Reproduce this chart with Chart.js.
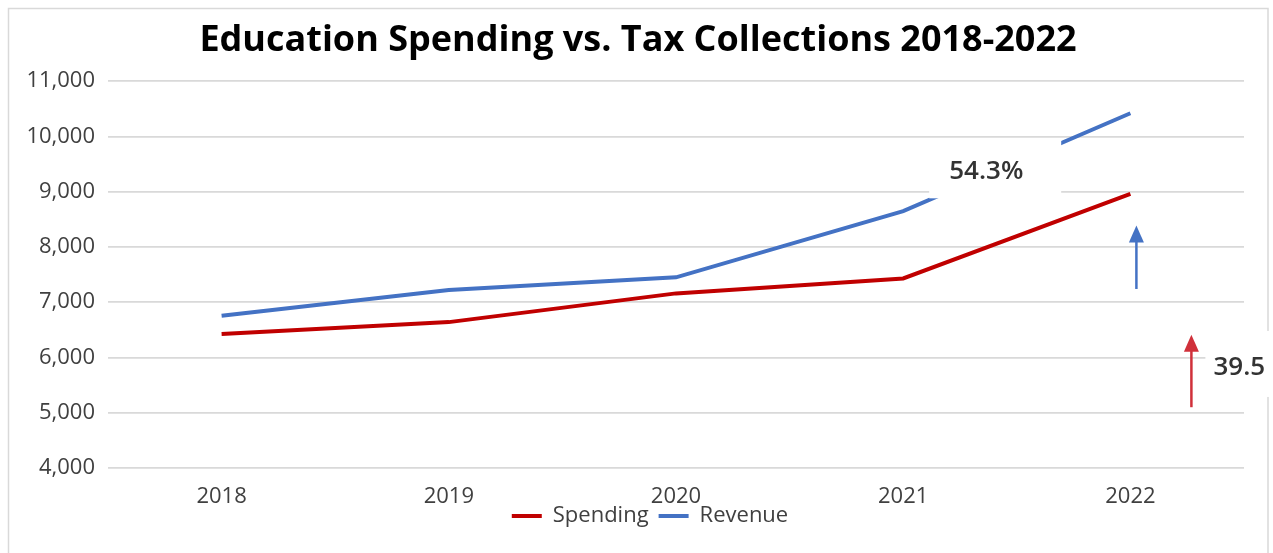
<!DOCTYPE html>
<html>
<head>
<meta charset="utf-8">
<script src="https://cdn.jsdelivr.net/npm/chart.js@4"></script>
<style>
  html, body { margin: 0; padding: 0; background: #fff; }
  #wrap { width: 1273px; height: 553px; }
</style>
</head>
<body>
<div id="wrap"><canvas id="myChart" width="1273" height="553"></canvas></div>
<script>
const years = ['2018', '2019', '2020', '2021', '2022'];
const spending = [6425, 6640, 7160, 7430, 8960];
const revenue = [6755, 7220, 7450, 8650, 10420];
const yMin = 4000;
const yMax = 11000;
const revenueGrowth = '54.3%';
const spendingGrowth = '39.5';

const ctx = document.getElementById('myChart').getContext('2d');

// frame, white label boxes and the growth arrows
const extras = {
    id: 'extras',
    afterLayout(chart) {
        // pull the legend up under the year labels, like the original
        const lg = chart.legend;
        lg.top -= 15; lg.bottom -= 15;
        lg.left += 24; lg.right += 24;
        const t = chart.titleBlock;
        t.left += 12; t.right += 12;
    },
    beforeDraw(chart) {
        const c = chart.ctx;
        c.save();
        c.fillStyle = '#ffffff';
        c.fillRect(0, 0, chart.width, chart.height);
        c.strokeStyle = '#d9d9d9';
        c.lineWidth = 1.5;
        c.strokeRect(8.5, 8.5, 1259.5, 600);
        c.restore();
    },
    afterDatasetsDraw(chart) {
        const c = chart.ctx;
        const x = chart.scales.x;
        const y = chart.scales.y;
        const x21 = x.getPixelForValue(3);
        const x22 = x.getPixelForValue(4);

        c.save();
        // box behind revenue label
        c.fillStyle = '#ffffff';
        c.fillRect(x21 + 26, y.getPixelForValue(9930), 132, 58);
        c.fillStyle = '#333333';
        c.font = '600 26px "Open Sans"';
        c.textAlign = 'left';
        c.textBaseline = 'middle';
        c.fillText(revenueGrowth, x21 + 46, y.getPixelForValue(9360));

        // box behind spending label
        c.fillStyle = '#ffffff';
        c.fillRect(x22 + 75, y.getPixelForValue(6480), 80, 66);
        c.fillStyle = '#333333';
        c.fillText(spendingGrowth, x22 + 83, y.getPixelForValue(5820));

        drawArrow(c, x22 + 6, y.getPixelForValue(7240), y.getPixelForValue(8390), '#4472C4');
        drawArrow(c, x22 + 61, y.getPixelForValue(5100), y.getPixelForValue(6410), '#D0303A');
        c.restore();
    }
};

function drawArrow(c, px, yFrom, yTo, color) {
    c.strokeStyle = color;
    c.fillStyle = color;
    c.lineWidth = 2.5;
    c.beginPath();
    c.moveTo(px, yFrom);
    c.lineTo(px, yTo + 12);
    c.stroke();
    c.beginPath();
    c.moveTo(px, yTo);
    c.lineTo(px - 7.5, yTo + 17);
    c.lineTo(px + 7.5, yTo + 17);
    c.closePath();
    c.fill();
}

const chart = new Chart(ctx, {
    type: 'line',
    data: {
        labels: years,
        datasets: [{
            label: 'Spending',
            data: spending,
            borderColor: '#C00000',
            backgroundColor: '#C00000',
            borderWidth: 4,
            pointRadius: 0,
            tension: 0,
            fill: false
        }, {
            label: 'Revenue',
            data: revenue,
            borderColor: '#4472C4',
            backgroundColor: '#4472C4',
            borderWidth: 4,
            pointRadius: 0,
            tension: 0,
            fill: false
        }]
    },
    options: {
        responsive: false,
        animation: false,
        layout: {
            padding: { left: 8, right: 29, top: 0, bottom: 1 }
        },
        scales: {
            x: {
                offset: true,
                grid: { display: false, drawTicks: false },
                border: { display: false },
                ticks: {
                    color: '#404040',
                    padding: 16,
                    maxRotation: 0,
                    font: { family: 'Open Sans', size: 22 }
                },
                afterFit(scale) { scale.height = 42; }
            },
            y: {
                min: yMin,
                max: yMax,
                grid: { color: '#d9d9d9', lineWidth: 1.8, drawTicks: false },
                border: { display: false },
                ticks: {
                    stepSize: 1000,
                    color: '#404040',
                    padding: 13,
                    font: { family: 'Open Sans', size: 22 },
                    callback: v => v.toLocaleString('en-US')
                },
                afterFit(scale) { scale.width = 100; }
            }
        },
        plugins: {
            title: {
                display: true,
                text: 'Education Spending vs. Tax Collections 2018-2022',
                color: '#000000',
                font: { family: 'Open Sans', size: 36, weight: 'bold' },
                padding: { top: 19, bottom: 19 }
            },
            legend: {
                position: 'bottom',
                labels: {
                    usePointStyle: true,
                    pointStyle: 'line',
                    pointStyleWidth: 30,
                    color: '#404040',
                    padding: 10,
                    font: { family: 'Open Sans', size: 22 }
                }
            },
            tooltip: { enabled: false }
        }
    },
    plugins: [extras]
});
</script>
</body>
</html>
